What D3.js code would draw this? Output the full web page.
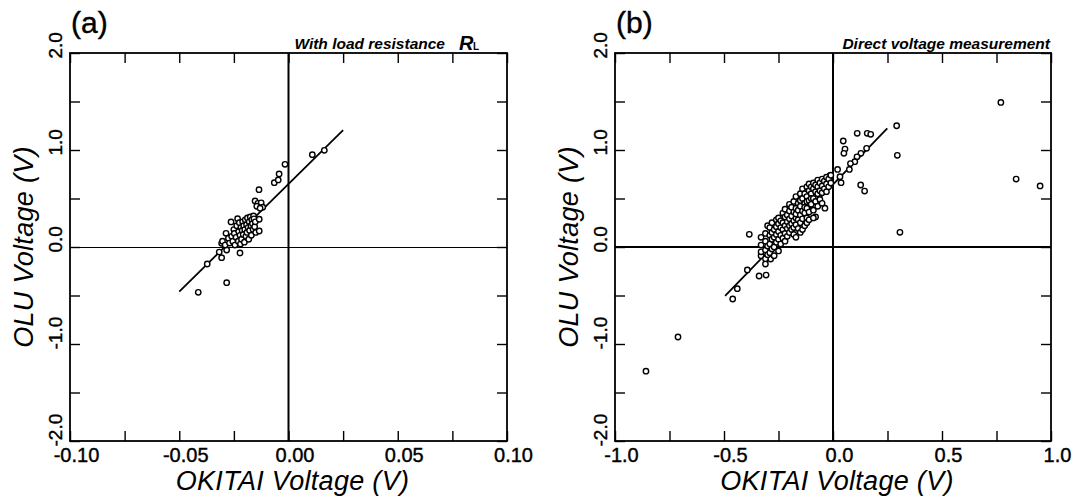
<!DOCTYPE html>
<html>
<head>
<meta charset="utf-8">
<script src="https://cdn.jsdelivr.net/npm/d3@7"></script>
<style>
	body { margin: 0; background: #fff; }
	svg { display: block; font-family: 'Liberation Sans', Arial, Helvetica, sans-serif; }
</style>
</head>
<body>
<div id="chart"></div>
<script>
// tick labels
const xTicksA = [-0.10, -0.05, 0.00, 0.05, 0.10]
const xTicksB = [-1.0, -0.5, 0.0, 0.5, 1.0]
const yTicks = [-2.0, -1.0, 0.0, 1.0, 2.0]

// (a) with load resistance: [OKITAI, OLU]
const pointsA = [
	[-0.0413, -0.467], [-0.0283, -0.368], [-0.0372, -0.175], [-0.0222, -0.062], [-0.0306, -0.110],
	[-0.0283, -0.031], [-0.0317, -0.052], [-0.0306, 0.038], [-0.0302, 0.060], [-0.0290, 0.020],
	[-0.0286, 0.141], [-0.0275, 0.090], [-0.0270, 0.040], [-0.0263, 0.258], [-0.0260, 0.110],
	[-0.0255, 0.060], [-0.0250, 0.180], [-0.0248, 0.140], [-0.0245, 0.020], [-0.0240, 0.100],
	[-0.0237, 0.220], [-0.0233, 0.292], [-0.0230, 0.060], [-0.0228, 0.160], [-0.0225, 0.250],
	[-0.0222, 0.120], [-0.0220, 0.030], [-0.0218, 0.200], [-0.0215, 0.080], [-0.0212, 0.170],
	[-0.0210, 0.260], [-0.0207, 0.130], [-0.0205, 0.220], [-0.0202, 0.050], [-0.0200, 0.180],
	[-0.0198, 0.280], [-0.0195, 0.110], [-0.0192, 0.230], [-0.0190, 0.150], [-0.0188, 0.300],
	[-0.0185, 0.200], [-0.0182, 0.080], [-0.0180, 0.260], [-0.0178, 0.170], [-0.0175, 0.310],
	[-0.0172, 0.220], [-0.0170, 0.120], [-0.0168, 0.280], [-0.0165, 0.240], [-0.0162, 0.180],
	[-0.0160, 0.320], [-0.0158, 0.290], [-0.0155, 0.210], [-0.0152, 0.260], [-0.0150, 0.150],
	[-0.0134, 0.286], [-0.0134, 0.165], [-0.0153, 0.474], [-0.0135, 0.591], [-0.0140, 0.450],
	[-0.0125, 0.455], [-0.0145, 0.420], [-0.0118, 0.410], [-0.0130, 0.400], [-0.0065, 0.663],
	[-0.0047, 0.691], [-0.0043, 0.753], [-0.0016, 0.852], [0.0109, 0.952], [0.0164, 0.997]
]
const fitA = [[-0.050, -0.461], [0.025, 1.206]]

// (b) direct voltage measurement: [OKITAI, OLU]
const pointsB = [
	[-0.858, -1.28], [-0.711, -0.928], [-0.384, 0.131], [-0.460, -0.536], [-0.439, -0.430],
	[-0.393, -0.237], [-0.339, -0.299], [-0.307, -0.289], [-0.310, -0.175], [-0.286, -0.124],
	[-0.330, -0.090], [0.292, 1.25], [0.295, 0.945], [0.307, 0.151], [0.111, 1.172],
	[0.157, 1.172], [0.173, 1.162], [0.047, 1.093], [0.055, 1.010], [0.050, 0.966],
	[0.127, 0.639], [0.145, 0.577], [0.154, 1.017], [0.128, 0.966], [0.110, 0.930],
	[0.100, 0.880], [0.080, 0.860], [0.075, 0.800], [0.021, 0.800], [0.037, 0.663],
	[0.032, 0.725], [-0.014, 0.735], [0.77, 1.49], [0.84, 0.70], [0.95, 0.63],
	[-0.037, 0.40], [-0.080, 0.31],
	[-0.33, 0.02], [-0.33, -0.05], [-0.33, 0.10],
	[-0.31, -0.03], [-0.31, 0.06], [-0.31, 0.14], [-0.31, -0.12],
	[-0.30, 0.22], [-0.30, 0.01], [-0.30, -0.08],
	[-0.29, 0.12], [-0.29, 0.03], [-0.29, 0.20], [-0.29, -0.06],
	[-0.28, 0.25], [-0.28, 0.08], [-0.28, -0.02], [-0.28, 0.15],
	[-0.27, 0.00], [-0.27, 0.18], [-0.27, 0.10], [-0.27, -0.09],
	[-0.26, 0.28], [-0.26, 0.13], [-0.26, 0.05], [-0.26, 0.21],
	[-0.25, 0.08], [-0.25, 0.30], [-0.25, 0.16], [-0.25, -0.04], [-0.25, 0.24],
	[-0.24, 0.12], [-0.24, 0.20], [-0.24, 0.03], [-0.24, 0.27],
	[-0.23, 0.35], [-0.23, 0.18], [-0.23, 0.09], [-0.23, 0.25],
	[-0.22, 0.14], [-0.22, 0.31], [-0.22, 0.22], [-0.22, 0.06], [-0.22, 0.39],
	[-0.21, 0.26], [-0.21, 0.19], [-0.21, 0.33], [-0.21, 0.11],
	[-0.20, 0.29], [-0.20, 0.22], [-0.20, 0.37], [-0.20, 0.15], [-0.20, 0.44],
	[-0.19, 0.24], [-0.19, 0.32], [-0.19, 0.18], [-0.19, 0.41],
	[-0.18, 0.36], [-0.18, 0.27], [-0.18, 0.20], [-0.18, 0.47], [-0.18, 0.13],
	[-0.17, 0.30], [-0.17, 0.40], [-0.17, 0.23], [-0.17, 0.52], [-0.17, 0.34], [-0.17, 0.10],
	[-0.16, 0.38], [-0.16, 0.28], [-0.16, 0.45], [-0.16, 0.19],
	[-0.15, 0.42], [-0.15, 0.33], [-0.15, 0.55], [-0.15, 0.25], [-0.15, 0.48], [-0.15, 0.15],
	[-0.14, 0.37], [-0.14, 0.50], [-0.14, 0.29], [-0.14, 0.60], [-0.14, 0.18],
	[-0.13, 0.45], [-0.13, 0.35], [-0.13, 0.55], [-0.13, 0.41], [-0.13, 0.22],
	[-0.12, 0.52], [-0.12, 0.40], [-0.12, 0.62], [-0.12, 0.30], [-0.12, 0.47], [-0.12, 0.25],
	[-0.11, 0.48], [-0.11, 0.58], [-0.11, 0.36], [-0.11, 0.65], [-0.11, 0.28],
	[-0.10, 0.55], [-0.10, 0.44], [-0.10, 0.62], [-0.10, 0.50],
	[-0.09, 0.60], [-0.09, 0.50], [-0.09, 0.66], [-0.09, 0.38], [-0.09, 0.30],
	[-0.08, 0.57], [-0.08, 0.64], [-0.08, 0.47],
	[-0.07, 0.62], [-0.07, 0.55], [-0.07, 0.69], [-0.07, 0.42],
	[-0.06, 0.66], [-0.06, 0.58], [-0.06, 0.49],
	[-0.05, 0.63], [-0.05, 0.70], [-0.05, 0.56], [-0.05, 0.45],
	[-0.04, 0.68], [-0.04, 0.60],
	[-0.03, 0.72], [-0.03, 0.65], [-0.03, 0.57],
	[-0.02, 0.70], [-0.02, 0.62],
	[-0.01, 0.74], [-0.01, 0.66]
]
const fitB = [[-0.495, -0.505], [0.249, 1.223]]

const panels = [
	{ tag: '(a)', left: 70, right: 507, xTicks: xTicksA, fmt: '.2f', points: pointsA, fit: fitA, hLine: 1 },
	{ tag: '(b)', left: 615, right: 1051, xTicks: xTicksB, fmt: '.1f', points: pointsB, fit: fitB, hLine: 2 },
]

const plotTop = 53, plotBottom = 441

// plain hyphen for negative labels
const locale = d3.formatLocale({ decimal: '.', thousands: ',', grouping: [3], currency: ['', ''], minus: '-' })

const svg = d3.select('#chart').append('svg')
	.attr('width', 1078)
	.attr('height', 498)

// halves between majors for minor ticks
const withMinor = t => t.flatMap((v, i) => i < t.length - 1 ? [v, (v + t[i + 1]) / 2] : [v])

panels.forEach(p => {
	const x = d3.scaleLinear().domain(d3.extent(p.xTicks)).range([p.left, p.right])
	const y = d3.scaleLinear().domain(d3.extent(yTicks)).range([plotBottom, plotTop])
	const g = svg.append('g')
	const xf = locale.format(p.fmt)
	const yf = locale.format('.1f')

	const xAll = withMinor(p.xTicks)
	const yAll = withMinor(yTicks)

	// bottom axis with labels
	const bx = g.append('g')
		.attr('transform', `translate(0,${plotBottom})`)
		.call(d3.axisBottom(x).tickValues(xAll).tickSize(-10).tickPadding(7)
			.tickFormat(d => p.xTicks.some(t => Math.abs(t - d) < 1e-9) ? xf(d) : ''))
	bx.selectAll('text')
		.attr('x', 6).attr('font-size', 20).attr('font-family', null)
		.attr('fill', '#000').attr('stroke', '#000').attr('stroke-width', 0.4)

	// top axis, ticks only
	g.append('g')
		.attr('transform', `translate(0,${plotTop})`)
		.call(d3.axisTop(x).tickValues(xAll).tickSize(-10).tickFormat(''))

	// left axis with rotated labels
	const ly = g.append('g')
		.attr('transform', `translate(${p.left},0)`)
		.call(d3.axisLeft(y).tickValues(yAll).tickSize(-10)
			.tickFormat(d => yTicks.some(t => Math.abs(t - d) < 1e-9) ? yf(d) : ''))
	ly.selectAll('text')
		.attr('x', -5).attr('y', null).attr('dy', null)
		.attr('transform', 'translate(-8,0) rotate(-90)')
		.attr('text-anchor', 'start')
		.attr('font-size', 19).attr('font-family', null)
		.attr('fill', '#000').attr('stroke', '#000').attr('stroke-width', 0.4)

	// right axis, ticks only
	g.append('g')
		.attr('transform', `translate(${p.right},0)`)
		.call(d3.axisRight(y).tickValues(yAll).tickSize(-10).tickFormat(''))

	g.selectAll('.domain').remove()
	g.selectAll('.tick line').attr('stroke', '#000').attr('stroke-width', 1.4)

	// frame
	g.append('rect')
		.attr('x', p.left).attr('y', plotTop)
		.attr('width', p.right - p.left).attr('height', plotBottom - plotTop)
		.attr('fill', 'none').attr('stroke', '#000').attr('stroke-width', 1.8)

	// zero lines
	g.append('line')
		.attr('x1', x(0)).attr('x2', x(0)).attr('y1', plotTop).attr('y2', plotBottom)
		.attr('stroke', '#000').attr('stroke-width', 2)
	g.append('line')
		.attr('x1', p.left).attr('x2', p.right).attr('y1', y(0)).attr('y2', y(0))
		.attr('stroke', '#000').attr('stroke-width', p.hLine)
		.attr('shape-rendering', 'crispEdges')

	// regression line
	g.append('line')
		.attr('x1', x(p.fit[0][0])).attr('y1', y(p.fit[0][1]))
		.attr('x2', x(p.fit[1][0])).attr('y2', y(p.fit[1][1]))
		.attr('stroke', '#000').attr('stroke-width', 1.8)

	// points
	g.append('g').selectAll('circle')
		.data(p.points)
		.join('circle')
		.attr('cx', d => x(d[0]))
		.attr('cy', d => y(d[1]))
		.attr('r', 2.7)
		.attr('fill', '#fff')
		.attr('stroke', '#000')
		.attr('stroke-width', 1.4)

	// panel tag
	g.append('text')
		.attr('x', p.left + 1).attr('y', 33)
		.attr('font-size', 30)
		.attr('stroke', '#000').attr('stroke-width', 0.4)
		.text(p.tag)

	// axis titles
	g.append('text')
		.attr('x', (p.left + p.right) / 2 + 4).attr('y', 490)
		.attr('text-anchor', 'middle')
		.attr('font-size', 27).attr('font-style', 'italic')
		.attr('letter-spacing', 0.3)
		.text('OKITAI Voltage (V)')

	g.append('text')
		.attr('transform', `translate(${p.left - 37},${(plotTop + plotBottom) / 2}) rotate(-90)`)
		.attr('text-anchor', 'middle')
		.attr('font-size', 27).attr('font-style', 'italic')
		.attr('letter-spacing', 0.3)
		.text('OLU Voltage (V)')
})

// panel notes
svg.append('text')
	.attr('x', 445).attr('y', 49)
	.attr('text-anchor', 'end')
	.attr('font-size', 15.5).attr('font-style', 'italic').attr('font-weight', 'bold')
	.text('With load resistance')
svg.append('text')
	.attr('x', 459).attr('y', 50)
	.attr('font-size', 20).attr('font-style', 'italic').attr('font-weight', 'bold')
	.text('R')
svg.append('text')
	.attr('x', 473).attr('y', 50)
	.attr('font-size', 10).attr('font-weight', 'bold')
	.text('L')

svg.append('text')
	.attr('x', 1050).attr('y', 49)
	.attr('text-anchor', 'end')
	.attr('font-size', 15.5).attr('font-style', 'italic').attr('font-weight', 'bold')
	.text('Direct voltage measurement')
</script>
</body>
</html>
